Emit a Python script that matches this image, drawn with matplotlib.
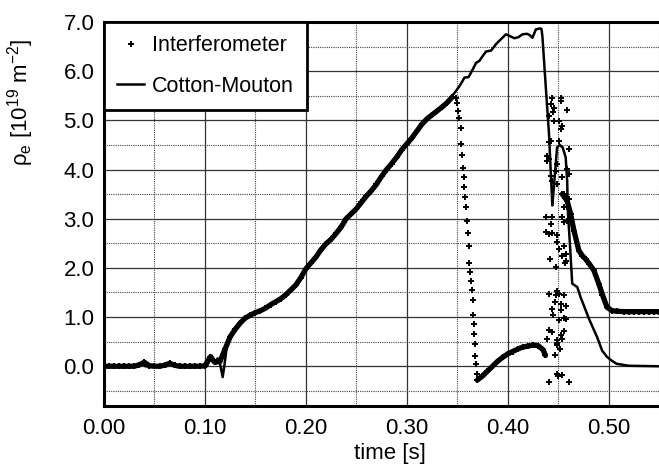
import numpy as np
import matplotlib
matplotlib.use('Agg')
import matplotlib.pyplot as plt
from matplotlib.ticker import MultipleLocator, FormatStrFormatter

plt.rcParams['font.family'] = ['Liberation Sans', 'DejaVu Sans']
plt.rcParams['mathtext.fontset'] = 'custom'
plt.rcParams['mathtext.rm'] = 'Liberation Sans'
plt.rcParams['mathtext.default'] = 'regular'

# Cotton-Mouton trace
cm_t = [0.000, 0.034, 0.038, 0.041, 0.062, 0.066, 0.070, 0.102, 0.1067, 0.1103, 0.1126,
        0.115, 0.1176, 0.1192, 0.1225, 0.129, 0.1356, 0.1422, 0.1504, 0.1586, 0.1668,
        0.175, 0.1833, 0.1914, 0.199, 0.2217, 0.2424, 0.262, 0.2818, 0.2982, 0.318,
        0.3343, 0.3475, 0.3524, 0.3573, 0.3613, 0.3655, 0.3688, 0.372, 0.3754, 0.3786,
        0.3836, 0.3885, 0.3934, 0.3983, 0.4016, 0.4066, 0.4105, 0.4148, 0.419, 0.4215,
        0.4246, 0.428, 0.4322, 0.4335, 0.4345, 0.4376, 0.441, 0.4443, 0.4458, 0.449,
        0.4516, 0.4545, 0.4575, 0.459, 0.4598, 0.4615, 0.464, 0.469, 0.4722, 0.4805,
        0.4887, 0.4936, 0.4985, 0.5034, 0.508, 0.52, 0.55]
cm_v = [0.0, 0.0, 0.09, 0.0, 0.0, 0.07, 0.0, 0.0, 0.22, 0.09, 0.16,
        0.05, -0.22, 0.0, 0.53, 0.73, 0.90, 1.01, 1.10, 1.17, 1.27,
        1.37, 1.51, 1.68, 1.98, 2.52, 3.06, 3.50, 4.04, 4.48, 4.99,
        5.26, 5.56, 5.70, 5.87, 5.88, 6.04, 6.17, 6.21, 6.31, 6.40,
        6.42, 6.55, 6.65, 6.75, 6.72, 6.67, 6.69, 6.75, 6.76, 6.74,
        6.68, 6.85, 6.87, 6.86, 6.70, 5.74, 4.72, 3.27, 3.63, 4.45,
        4.50, 4.45, 4.25, 3.77, 3.10, 2.56, 1.68, 1.61, 1.41, 0.97,
        0.59, 0.32, 0.19, 0.11, 0.05, 0.01, 0.0]

# Interferometer: dense ramp-up
ifm_rise_t = [0.000, 0.005, 0.010, 0.015, 0.020, 0.025, 0.030, 0.035, 0.040, 0.045,
              0.050, 0.055, 0.060, 0.065, 0.070, 0.075, 0.080, 0.085, 0.090, 0.095,
              0.100, 0.105, 0.110, 0.115, 0.120, 0.125, 0.130, 0.135, 0.140, 0.145,
              0.150, 0.155, 0.160, 0.165, 0.170, 0.175, 0.180, 0.185, 0.190, 0.195,
              0.200, 0.205, 0.210, 0.215, 0.220, 0.225, 0.230, 0.235, 0.240, 0.245,
              0.250, 0.255, 0.260, 0.265, 0.270, 0.275, 0.280, 0.285, 0.290, 0.295,
              0.300, 0.305, 0.310, 0.315, 0.320, 0.325, 0.330, 0.335, 0.340, 0.345]
ifm_rise_v = [0.0, 0.0, 0.0, 0.0, 0.0, 0.0, 0.0, 0.03, 0.08, 0.01,
              0.0, 0.0, 0.02, 0.06, 0.02, 0.0, 0.0, 0.0, 0.0, 0.0,
              0.01, 0.18, 0.08, 0.10, 0.35, 0.60, 0.75, 0.88, 0.98, 1.04,
              1.09, 1.13, 1.18, 1.25, 1.31, 1.37, 1.45, 1.55, 1.65, 1.80,
              1.98, 2.10, 2.22, 2.37, 2.49, 2.58, 2.70, 2.83, 3.00, 3.10,
              3.20, 3.33, 3.46, 3.57, 3.70, 3.86, 4.00, 4.12, 4.25, 4.40,
              4.52, 4.64, 4.78, 4.92, 5.03, 5.11, 5.19, 5.27, 5.36, 5.47]

# Interferometer: fringe-jump fall
ifm_fall_t = [0.3490, 0.3500, 0.3507, 0.3515, 0.3533, 0.3540, 0.3548, 0.3556, 0.3565,
              0.3572, 0.3580, 0.3589, 0.3597, 0.3605, 0.3614, 0.3622, 0.3630, 0.3638,
              0.3646, 0.3655, 0.3660, 0.3665, 0.3670, 0.3675, 0.3680, 0.3685, 0.3695]
ifm_fall_v = [5.46, 5.35, 5.19, 5.05, 4.85, 4.52, 4.30, 4.04, 3.85,
              3.64, 3.45, 3.23, 2.95, 2.70, 2.45, 2.10, 1.92, 1.74,
              1.55, 1.35, 1.05, 0.85, 0.65, 0.45, 0.20, 0.05, -0.15]

# Interferometer: dense low arc
ifm_low_t = [0.370, 0.375, 0.380, 0.385, 0.390, 0.395, 0.400, 0.405, 0.410, 0.415,
             0.420, 0.425, 0.430, 0.435, 0.4375]
ifm_low_v = [-0.28, -0.20, -0.10, 0.0, 0.10, 0.18, 0.25, 0.30, 0.35, 0.39,
             0.41, 0.43, 0.42, 0.34, 0.22]

# Interferometer: scattered burst
ifm_burst_t = [0.4443, 0.4525, 0.4525, 0.4427, 0.4460, 0.4453, 0.4590, 0.4410, 0.4460,
               0.4510, 0.4542, 0.4525, 0.4410, 0.4427, 0.4510, 0.4607, 0.4394, 0.4394,
               0.4410, 0.4493, 0.4476, 0.4590, 0.4607, 0.4427, 0.4435, 0.4493, 0.4542,
               0.4558, 0.4575, 0.4607, 0.4558, 0.4590, 0.4378, 0.4443, 0.4427, 0.4542,
               0.4558, 0.4590, 0.4378, 0.4410, 0.4443, 0.4493, 0.4493, 0.4558, 0.4509,
               0.4575, 0.4542, 0.4420, 0.4583, 0.4565, 0.4476, 0.4410, 0.4485, 0.4476,
               0.4509, 0.4558, 0.4468, 0.4525, 0.4575, 0.4435, 0.4525, 0.4453, 0.4509,
               0.4558, 0.4575, 0.4410, 0.4443, 0.4558, 0.4525, 0.4394, 0.4493, 0.4485,
               0.4542, 0.4493, 0.4518, 0.4468, 0.4493, 0.4500, 0.4542, 0.4410, 0.4607]
ifm_burst_v = [5.46, 5.46, 5.40, 5.33, 5.26, 5.16, 5.21, 5.09, 4.99,
               4.99, 4.89, 4.82, 4.55, 4.58, 4.58, 4.41, 4.28, 4.18,
               4.22, 4.11, 3.98, 4.01, 3.91, 3.87, 3.77, 3.71, 3.84,
               3.50, 3.43, 3.41, 3.23, 3.23, 3.03, 3.03, 2.89, 3.03,
               2.93, 2.96, 2.72, 2.69, 2.70, 2.66, 2.52, 2.45, 2.39,
               2.29, 2.25, 2.18, 2.15, 2.10, 2.01, 1.47, 1.53, 1.44,
               1.47, 1.44, 1.30, 1.27, 1.22, 1.17, 1.15, 1.05, 0.95,
               0.98, 0.97, 0.74, 0.70, 0.72, 0.63, 0.56, 0.53, 0.47,
               0.56, 0.43, 0.36, 0.22, -0.15, -0.20, -0.17, -0.32, -0.32]

# Interferometer: dense tail
ifm_tail_t = [0.4542, 0.4570, 0.4590, 0.4624, 0.4657, 0.4706, 0.4740, 0.4772, 0.4810,
              0.4854, 0.4903, 0.4940, 0.4985, 0.5034, 0.5080, 0.5150, 0.5200, 0.5250,
              0.5300, 0.5350, 0.5400, 0.5450, 0.5500]
ifm_tail_v = [3.50, 3.42, 3.36, 3.10, 2.76, 2.35, 2.25, 2.18, 2.08,
              1.95, 1.68, 1.45, 1.20, 1.13, 1.12, 1.11, 1.11, 1.11,
              1.11, 1.11, 1.11, 1.11, 1.11]

fig = plt.figure(figsize=(6.59, 4.68), dpi=100)
ax = fig.add_axes([104 / 659, 1 - 405.6 / 468, 555 / 659, (405.6 - 22) / 468])

ms = 4.5
mew = 1.4
# dense stretches merge into a thick band in the original
for t, v in [(ifm_rise_t, ifm_rise_v), (ifm_low_t, ifm_low_v), (ifm_tail_t, ifm_tail_v)]:
    ax.plot(t, v, color='k', lw=3.8, solid_capstyle='round', zorder=3)
    ax.plot(t, v, '+', color='k', ms=ms, mew=mew, zorder=3)
ax.plot(ifm_fall_t, ifm_fall_v, '+', color='k', ms=ms, mew=mew, zorder=3)
ax.plot(ifm_burst_t, ifm_burst_v, '+', color='k', ms=ms, mew=mew, zorder=3,
        label='Interferometer')
ax.plot(cm_t, cm_v, color='k', lw=1.8, zorder=4, label='Cotton-Mouton')

ax.set_xlim(0, 0.55)
ax.set_ylim(-0.8, 7.0)
ax.xaxis.set_major_locator(MultipleLocator(0.1))
ax.xaxis.set_minor_locator(MultipleLocator(0.05))
ax.yaxis.set_major_locator(MultipleLocator(1.0))
ax.yaxis.set_minor_locator(MultipleLocator(0.5))
ax.xaxis.set_major_formatter(FormatStrFormatter('%.2f'))
ax.yaxis.set_major_formatter(FormatStrFormatter('%.1f'))
ax.tick_params(which='both', length=0, labelsize=16)
ax.tick_params(axis='x', pad=9)
ax.tick_params(axis='y', pad=7)

ax.grid(True, which='major', color='#333333', lw=0.9, ls='-')
ax.grid(True, which='minor', color='#444444', lw=0.8, ls=(0, (1, 1)))
ax.set_axisbelow(True)

for side in ['left', 'bottom', 'top']:
    ax.spines[side].set_linewidth(2.2)
ax.spines['right'].set_visible(False)

ax.set_xlabel('time [s]', fontsize=16)
ax.xaxis.set_label_coords(0.515, -0.098)
ax.set_ylabel('ρ$_e$ [10$^{19}$ m$^{-2}$]', fontsize=16)
ax.yaxis.set_label_coords(-0.122, 0.79)

leg = ax.legend(loc='upper left', bbox_to_anchor=(0, 1), borderaxespad=0,
                fontsize=15.5, fancybox=False, framealpha=1, edgecolor='k',
                handlelength=1.25, handletextpad=0.35, labelspacing=0.9,
                borderpad=0.62)
leg.get_frame().set_linewidth(2.0)
leg.set_zorder(10)

fig.savefig('out.png', dpi=100)
